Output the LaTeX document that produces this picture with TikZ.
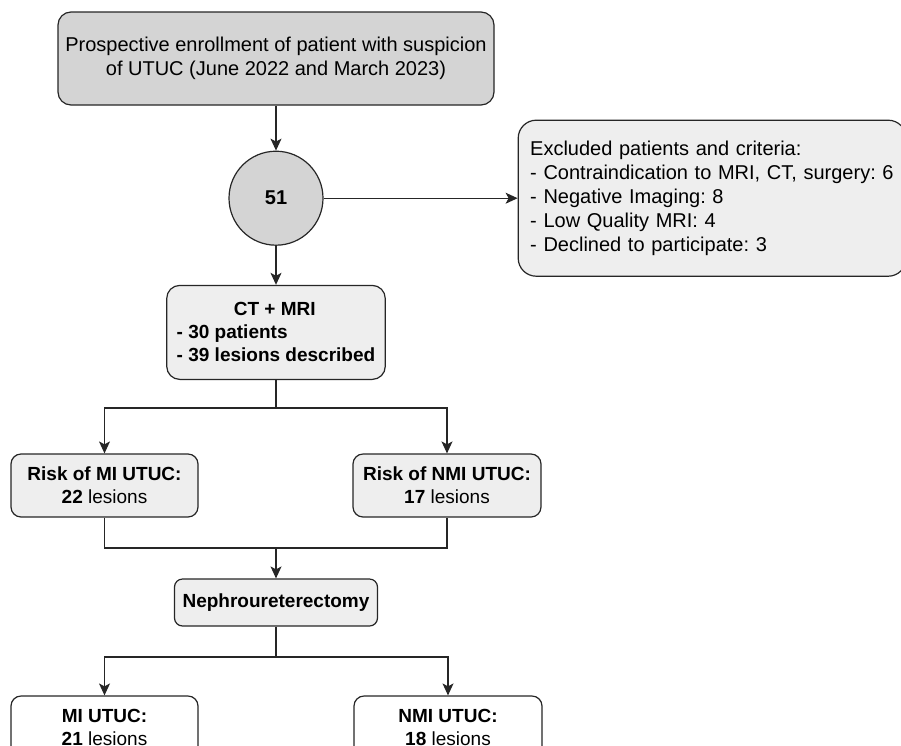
\documentclass[tikz,border=0pt]{standalone}
\usepackage{fontspec}
\setmainfont{Liberation Sans}
\usepackage{xcolor}
\usepackage{tikz}
\usetikzlibrary{shapes.geometric,arrows.meta,positioning,calc}
\definecolor{flowline}{RGB}{38,38,38}
\definecolor{flowdark}{RGB}{212,212,212}
\definecolor{flowlight}{RGB}{238,238,238}
\frenchspacing

\begin{document}
\begin{tikzpicture}[
    x=1pt, y=-1pt,
    node distance=40pt,
    >={Stealth[length=12pt,width=11pt,inset=3pt]},
    box/.style={rectangle, rounded corners=#1, draw=flowline, fill=flowlight,
                line width=1.2pt, inner sep=0pt, align=center,
                font=\fontsize{20}{24}\selectfont},
    box/.default=10pt,
    bbox/.style={box=#1, font=\fontsize{19}{23}\selectfont\bfseries},
    bbox/.default=10pt,
    arrow/.style={->, line width=1.2pt, draw=flowline},
    link/.style={line width=1.2pt, draw=flowline}
]
\useasboundingbox (0,0) rectangle (901,745);

% Enrollment
\node[box=13pt, fill=flowdark, minimum width=436pt, minimum height=93pt] (enrol) at (276,58.5)
    {Prospective enrollment of patient with suspicion\\of UTUC (June 2022 and March 2023)};
\node[circle, draw=flowline, fill=flowdark, line width=1.2pt, minimum size=94pt, inner sep=0pt,
      font=\fontsize{20}{24}\selectfont\bfseries, below=45pt of enrol] (total) {51};
\node[box=18pt, minimum height=156pt, text width=364pt, inner xsep=12pt, align=left,
      right=194pt of total] (excl)
    {Excluded patients and criteria:\\
     - Contraindication to MRI, CT, surgery: 6\\
     - Negative Imaging: 8\\
     - Low Quality MRI: 4\\
     - Declined to participate: 3};
\node[bbox=13pt, minimum width=218pt, minimum height=94pt, inner xsep=10pt, align=left,
      below=39pt of total] (ctmri)
    {\makebox[196pt]{CT + MRI}\\- 30 patients\\- 39 lesions described};

% Risk groups
\node[bbox, minimum width=187pt, minimum height=63pt] (riskmi) at (104.5,485.5)
    {Risk of MI UTUC:\\22 {\mdseries lesions}};
\node[bbox, minimum width=188pt, minimum height=63pt] (risknmi) at (447,485.5)
    {Risk of NMI UTUC:\\17 {\mdseries lesions}};
\node[bbox=8pt, minimum width=203pt, minimum height=47pt] (neph) at (276,602.5)
    {Nephroureterectomy};

% Final result
\node[bbox, fill=white, minimum width=187pt, minimum height=63pt] (mi) at (104.5,727.5)
    {MI UTUC:\\21 {\mdseries lesions}};
\node[bbox, fill=white, minimum width=188pt, minimum height=63pt] (nmi) at (448,727.5)
    {NMI UTUC:\\18 {\mdseries lesions}};

\coordinate (split) at (276,408);
\coordinate (merge) at (276,548);
\coordinate (split2) at (276,657);

\draw[arrow] (enrol) -- (total);
\draw[arrow] (total) -- (excl);
\draw[arrow] (total) -- (ctmri);
\draw[arrow] (ctmri.south) -- (split) -| (riskmi);
\draw[arrow] (split) -| (risknmi);
\draw[link] (riskmi.south) |- (merge) -| (risknmi.south);
\draw[arrow] (merge) -- (neph);
\draw[arrow] (neph.south) -- (split2) -| (mi);
\draw[arrow] (split2) -| (nmi);
\end{tikzpicture}
\end{document}
